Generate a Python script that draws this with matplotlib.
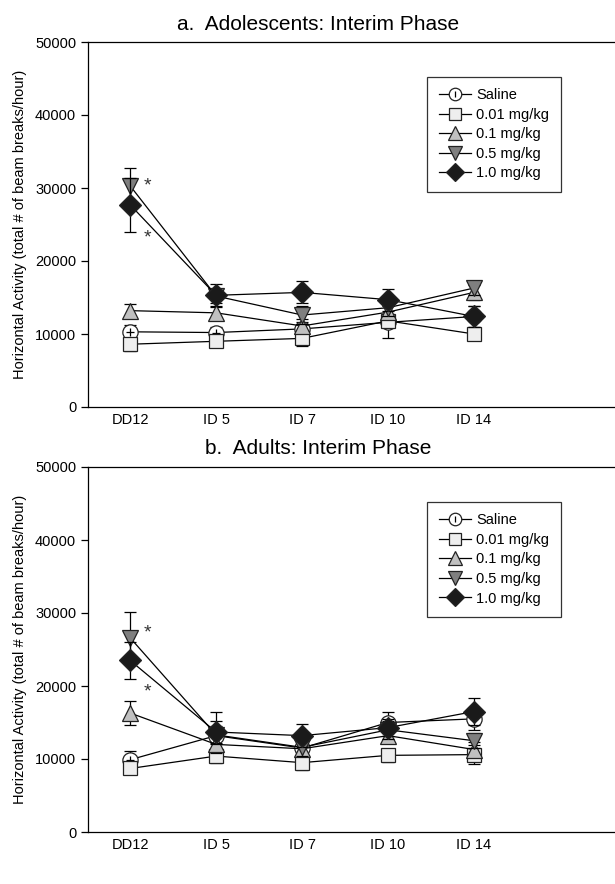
import matplotlib
matplotlib.use("Agg")
import matplotlib.pyplot as plt
from matplotlib.lines import Line2D
from matplotlib.legend_handler import HandlerTuple
import numpy as np

plt.rcParams['font.family'] = ['Liberation Sans', 'DejaVu Sans']

days = ["DD12", "ID 5", "ID 7", "ID 10", "ID 14"]
groups = ["Saline", "0.01 mg/kg", "0.1 mg/kg", "0.5 mg/kg", "1.0 mg/kg"]

# Panel a: Adolescents
adol_saline = [10300, 10200, 10700, 11600, 12400]
adol_001 = [8600, 9000, 9400, 11800, 10000]
adol_01 = [13200, 12900, 11100, 13000, 15700]
adol_05 = [30300, 15200, 12600, 13600, 16300]
adol_10 = [27700, 15300, 15700, 14700, 12400]
adol_saline_err = [1000, 700, 1000, 2200, 1500]
adol_001_err = [900, 700, 1000, 900, 700]
adol_01_err = [900, 800, 1000, 1000, 1000]
adol_05_err = [2500, 1000, 1200, 1200, 1000]
adol_10_err = [3700, 1500, 1500, 1500, 1500]

# Panel b: Adults
adult_saline = [9900, 13200, 11500, 15000, 15500]
adult_001 = [8700, 10400, 9500, 10500, 10600]
adult_01 = [16300, 12000, 11400, 13200, 11300]
adult_05 = [26600, 13300, 11600, 14000, 12500]
adult_10 = [23500, 13700, 13200, 14300, 16500]
adult_saline_err = [1200, 3300, 1200, 1400, 1500]
adult_001_err = [800, 1000, 1000, 900, 1300]
adult_01_err = [1600, 1200, 1000, 1000, 1000]
adult_05_err = [3500, 1200, 1200, 1200, 1000]
adult_10_err = [2500, 1500, 1600, 1200, 1800]

titles = ["a.  Adolescents: Interim Phase", "b.  Adults: Interim Phase"]
star_a = [30300, 23200]
star_b = [27300, 19200]

styles = [
    dict(marker='o', mfc='white', ms=11),
    dict(marker='s', mfc='#eeeeee', ms=10.5),
    dict(marker='^', mfc='#c0c0c0', ms=12),
    dict(marker='v', mfc='#7f7f7f', ms=12),
    dict(marker='D', mfc='#1a1a1a', ms=11),
]

W, H = 615, 884
fig = plt.figure(figsize=(W / 100, H / 100), dpi=100)

panels = [
    (42, 407, [adol_saline, adol_001, adol_01, adol_05, adol_10],
     [adol_saline_err, adol_001_err, adol_01_err, adol_05_err, adol_10_err], star_a, 25),
    (467, 832, [adult_saline, adult_001, adult_01, adult_05, adult_10],
     [adult_saline_err, adult_001_err, adult_01_err, adult_05_err, adult_10_err], star_b, 449),
]

x = np.arange(len(days))
for pi, (top, bot, series, errs, stars, ty) in enumerate(panels):
    ax = fig.add_axes([88 / W, 1 - bot / H, (W - 88) / W, (bot - top) / H])
    handles = []
    for si, (vals, err, st) in enumerate(zip(series, errs, styles)):
        ax.errorbar(x, vals, yerr=err, fmt='none', ecolor='black', elinewidth=0.9,
                    capsize=4, capthick=0.9, zorder=2 + si * 2)
        ax.plot(x, vals, color='black', lw=0.9, marker=st['marker'], ms=st['ms'],
                mfc=st['mfc'], mec='#222222', mew=0.9, zorder=3 + si * 2)
        if si == 0:
            ax.plot(x, vals, ls='none', marker='+', ms=6, mec='black', mew=0.9,
                    zorder=3 + si * 2)
            h = (Line2D([], [], color='black', lw=0.9, marker='o', ms=st['ms'] - 2,
                        mfc='white', mec='#222222', mew=0.9),
                 Line2D([], [], ls='none', marker='|', ms=5, mec='black', mew=0.9))
        else:
            h = Line2D([], [], color='black', lw=0.9, marker=st['marker'], ms=st['ms'] - 2,
                       mfc=st['mfc'], mec='#222222', mew=0.9)
        handles.append(h)
    for sy in stars:
        ax.text(0.2, sy, "*", fontsize=14, ha='center', va='center', color='#333333')
    ax.set_xlim(-0.49, 5.64)
    ax.set_ylim(0, 50000)
    ax.set_yticks([0, 10000, 20000, 30000, 40000, 50000])
    ax.set_xticks(x)
    ax.set_xticklabels(days)
    ax.tick_params(axis='both', labelsize=10.5, width=0.9, direction='out')
    ax.tick_params(axis='y', length=5)
    ax.tick_params(axis='x', length=0, pad=4)
    ax.spines['right'].set_visible(False)
    for s in ['left', 'top', 'bottom']:
        ax.spines[s].set_linewidth(0.9)
    ax.set_ylabel("Horizontal Activity (total # of beam breaks/hour)", fontsize=10.5, labelpad=6)
    leg = ax.legend(handles, groups, loc='upper left', bbox_to_anchor=(0.63, 0.925),
                    fontsize=10.5, frameon=True, fancybox=False, edgecolor='black',
                    handlelength=2.2, handletextpad=0.35, labelspacing=0.38, borderpad=0.8,
                    handler_map={tuple: HandlerTuple(ndivide=1, pad=0)})
    leg.get_frame().set_linewidth(0.9)
    fig.text(318 / W, 1 - ty / H, titles[pi], fontsize=15, ha='center', va='center')

fig.savefig("out.png", dpi=100)
